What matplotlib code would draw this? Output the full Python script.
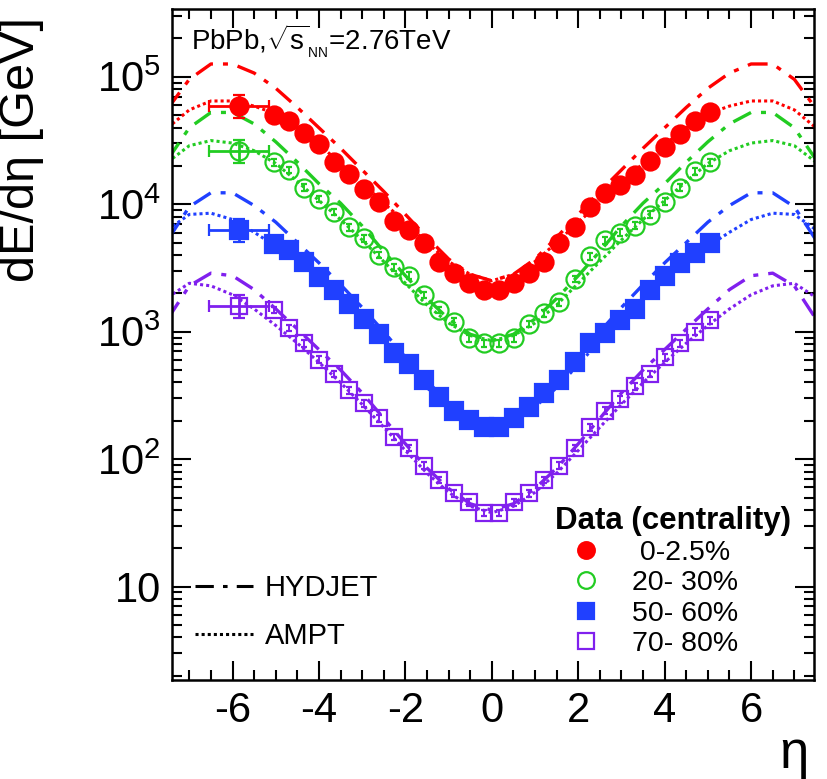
import numpy as np
import matplotlib
matplotlib.use('Agg')
import matplotlib.pyplot as plt
from matplotlib.lines import Line2D
from matplotlib.ticker import FixedLocator, MultipleLocator, FuncFormatter, NullFormatter

plt.rcParams['font.family'] = ['Liberation Sans', 'DejaVu Sans']
plt.rcParams['mathtext.fontset'] = 'custom'
plt.rcParams['mathtext.rm'] = 'Liberation Sans'
plt.rcParams['mathtext.it'] = 'Liberation Sans:italic'
plt.rcParams['mathtext.sf'] = 'Liberation Sans'

# calorimeter bin centres (|eta| < 5.2)
eta = [-5.046, -4.698, -4.350, -4.002, -3.654, -3.306, -2.958, -2.610, -2.262, -1.914,
       -1.566, -1.218, -0.870, -0.522, -0.174,
       0.174, 0.522, 0.870, 1.218, 1.566, 1.914, 2.262, 2.610, 2.958, 3.306,
       3.654, 4.002, 4.350, 4.698, 5.046]

# CASTOR point
eta_castor = -5.85
eta_castor_err = 0.7

labels = [' 0-2.5%', '20- 30%', '50- 60%', '70- 80%']
colors = ['#ff0000', '#22cc22', '#2040ff', '#8020ee']

data_0_2 = [50100, 44700, 36300, 29500, 21400, 17400, 13200, 10500, 7400, 6300,
            5000, 3550, 2880, 2400, 2140,
            2140, 2400, 2880, 3550, 5010, 6600, 9550, 12300, 14100, 17000,
            21900, 28200, 35500, 44700, 53000]
data_20_30 = [21400, 18600, 13500, 11000, 8700, 6600, 5400, 4000, 3200, 2750,
              1950, 1480, 1200, 890, 813,
              813, 891, 1150, 1400, 1700, 2600, 3900, 5200, 6000, 6800,
              8300, 10500, 13500, 18200, 21400]
data_50_60 = [4900, 4360, 3500, 2690, 2110, 1660, 1260, 960, 680, 560,
              417, 310, 240, 204, 178,
              178, 209, 257, 331, 417, 575, 812, 977, 1230, 1510,
              2140, 2750, 3470, 4170, 5010]
data_70_80 = [1480, 1070, 813, 603, 468, 347, 275, 210, 150, 123,
              89, 69, 54, 46, 38,
              38, 46, 54, 69, 89, 123, 178, 240, 295, 372,
              468, 630, 813, 1000, 1230]
data_castor = [59000, 26000, 6250, 1580]

# model curves, given for eta >= 0 and mirrored (symmetric collisions)
eta_model_half = [0.0, 0.5, 1.0, 1.5, 2.0, 2.5, 3.0, 3.5, 4.0, 4.5, 5.0, 5.5, 6.0, 6.5, 7.0, 7.5]
hydjet = [
    [2510, 2820, 3720, 5500, 8320, 12600, 18600, 27500, 39800, 57500, 81300, 107000, 126000, 126000, 95500, 56200],
    [851, 955, 1260, 1820, 2750, 4270, 6760, 10200, 14500, 21400, 30900, 42700, 52500, 52500, 39800, 22400],
    [191, 214, 282, 407, 631, 1000, 1550, 2340, 3470, 5010, 7240, 9770, 12300, 12300, 9550, 5250],
    [39.8, 44.7, 58.9, 85.1, 132, 209, 331, 501, 724, 1050, 1510, 2140, 2750, 2880, 2290, 1260],
]
ampt = [
    [2510, 2820, 3550, 5010, 7240, 10200, 14800, 20900, 29500, 39800, 51300, 58900, 64600, 64600, 55000, 39800],
    [851, 933, 1170, 1620, 2400, 3550, 5250, 7590, 10700, 15100, 20900, 26300, 30200, 31600, 28800, 21400],
    [186, 204, 257, 363, 550, 851, 1290, 1910, 2690, 3630, 4680, 6030, 7590, 8510, 8320, 6310],
    [38.0, 42.7, 55.0, 77.6, 117, 178, 269, 398, 575, 813, 1120, 1510, 1950, 2290, 2400, 1860],
]


def mirror(x, y):
    xs = [-v for v in x[:0:-1]] + list(x)
    ys = list(y[:0:-1]) + list(y)
    return xs, ys


fig = plt.figure(figsize=(8.27, 7.79), dpi=100)
ax = fig.add_axes([0.208, 0.127, 0.776, 0.8614])

dashdot = (0, (6, 3, 1.5, 3))
dotted = (0, (1.0, 1.0))

for i in range(4):
    xs, ys = mirror(eta_model_half, hydjet[i])
    ax.plot(xs, ys, color=colors[i], lw=2.4, ls=dashdot, zorder=2)
    xs, ys = mirror(eta_model_half, ampt[i])
    ax.plot(xs, ys, color=colors[i], lw=2.2, ls=dotted, zorder=2)

series = [data_0_2, data_20_30, data_50_60, data_70_80]
markers = ['o', 'o', 's', 's']
filled = [True, False, True, False]
sizes = [13, 13, 13, 12]

for i in range(4):
    y = np.array(series[i])
    fc = colors[i] if filled[i] else 'none'
    ax.errorbar(eta, y, yerr=0.06 * y, fmt=markers[i], color=colors[i], mfc=fc, mec=colors[i],
                ms=sizes[i], mew=1.6, elinewidth=1.4, capsize=2.5, zorder=3)
    yc = data_castor[i]
    ax.errorbar([eta_castor], [yc], xerr=eta_castor_err,
                yerr=[[yc * 0.19], [yc * 0.23]], fmt=markers[i], color=colors[i],
                mfc=fc, mec=colors[i], ms=sizes[i], mew=1.6, elinewidth=2.0, capsize=4, zorder=3)

ax.set_yscale('log')
ax.set_xlim(-7.4, 7.45)
ax.set_ylim(1.85, 3.4e5)

ax.xaxis.set_major_locator(MultipleLocator(2))
ax.xaxis.set_minor_locator(MultipleLocator(0.5))
ax.yaxis.set_major_locator(FixedLocator([10, 100, 1e3, 1e4, 1e5]))
minors = [m * 10.0 ** d for d in range(0, 6) for m in range(2, 10)]
ax.yaxis.set_minor_locator(FixedLocator(minors))
ax.yaxis.set_minor_formatter(NullFormatter())


def ylab(v, pos):
    n = int(round(np.log10(v)))
    if n == 1:
        return '10'
    return r'$10^{%d}$' % n


ax.yaxis.set_major_formatter(FuncFormatter(ylab))
ax.xaxis.set_major_formatter(FuncFormatter(lambda v, p: '%d' % v))

ax.tick_params(which='both', direction='in', top=True, right=True, width=1.5)
ax.tick_params(which='major', length=14, labelsize=30, pad=8)
ax.tick_params(which='minor', length=7)
for s in ax.spines.values():
    s.set_linewidth(1.8)

ax.set_ylabel('dE/dη [GeV]', fontsize=35, labelpad=6)
ax.yaxis.set_label_coords(-0.2, 0.79)
fig.text(0.978, 0.0, 'η', fontsize=38, ha='right', va='bottom')

ax.text(0.03, 0.952, r'PbPb,$\sqrt{\mathrm{s}}_{_{\mathrm{NN}}}$=2.76TeV', transform=ax.transAxes,
        fontsize=20, ha='left', va='center')

# data legend
handles = []
for i in range(4):
    fc = colors[i] if filled[i] else 'none'
    handles.append(Line2D([], [], ls='none', marker=markers[i], color=colors[i], mfc=fc,
                          mec=colors[i], ms=sizes[i] - 1, mew=1.6))
leg1 = ax.legend(handles, labels, loc='lower right', bbox_to_anchor=(0.995, 0.005),
                 title='Data (centrality)', title_fontproperties={'weight': 'bold', 'size': 22.5},
                 fontsize=20.5, frameon=False, handletextpad=0.5, labelspacing=0.15,
                 borderpad=0.2, handlelength=2.2, alignment='left')
ax.add_artist(leg1)

mh = [Line2D([], [], color='black', lw=2.2, ls=dashdot),
      Line2D([], [], color='black', lw=2.2, ls=dotted)]
ax.legend(mh, ['HYDJET', 'AMPT'], loc='lower left', bbox_to_anchor=(-0.005, 0.005),
          fontsize=21, frameon=False, handlelength=2.0, handletextpad=0.4,
          labelspacing=0.7)

fig.savefig('out.png', dpi=100)
